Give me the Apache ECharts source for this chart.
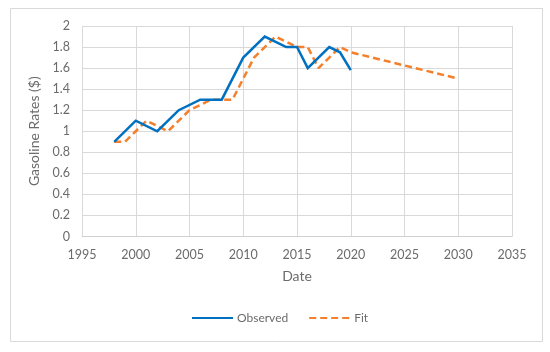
<!DOCTYPE html>
<html>
<head>
<meta charset="utf-8">
<script src="https://cdn.jsdelivr.net/npm/echarts@6/dist/echarts.min.js"></script>
<style>html,body{margin:0;padding:0;background:#fff;}#c{width:550px;height:352px;}</style>
</head>
<body>
<div id="c"></div>
<script>
const observedYears = [1998, 2000, 2002, 2004, 2006, 2008, 2010, 2012, 2014, 2015, 2016, 2018, 2019, 2020];
const observedValues = [0.9, 1.1, 1.0, 1.2, 1.3, 1.3, 1.7, 1.9, 1.8, 1.8, 1.6, 1.8, 1.75, 1.58];
const fitYears = [1998, 1999, 2000, 2001, 2002, 2003, 2004, 2005, 2006, 2007, 2008, 2009, 2010, 2011, 2012, 2013, 2014, 2015, 2016, 2017, 2018, 2019, 2020, 2030];
const fitValues = [0.9, 0.9, 1.0, 1.1, 1.05, 1.0, 1.1, 1.2, 1.25, 1.3, 1.3, 1.3, 1.5, 1.7, 1.8, 1.9, 1.85, 1.8, 1.8, 1.6, 1.7, 1.8, 1.75, 1.5];
const seriesNames = ['Observed', 'Fit'];
const xTitle = 'Date';
const yTitle = 'Gasoline Rates ($)';

const font = 'Lato, "Open Sans", sans-serif';
const textColor = '#6b6b6b';
const chart = echarts.init(document.getElementById('c'));
chart.setOption({
  animation: false,
  backgroundColor: '#fff',
  graphic: [{
    type: 'rect',
    shape: { x: 10.5, y: 8.5, width: 532, height: 333 },
    style: { fill: 'none', stroke: '#d9d9d9', lineWidth: 1 },
    silent: true
  }],
  grid: { left: 82, right: 38, top: 26, bottom: 115.5, containLabel: false },
  xAxis: {
    type: 'value', min: 1995, max: 2035, interval: 5,
    name: xTitle, nameLocation: 'middle', nameGap: 33,
    nameTextStyle: { color: textColor, fontFamily: font, fontSize: 14 },
    axisLine: { show: true, lineStyle: { color: '#d0d0d0', width: 1 } },
    axisTick: { show: false },
    axisLabel: { color: textColor, fontFamily: font, fontSize: 12.5, margin: 12,
      formatter: v => String(v) },
    splitLine: { show: true, lineStyle: { color: '#d9d9d9', width: 1 } }
  },
  yAxis: {
    type: 'value', min: 0, max: 2, interval: 0.2,
    name: yTitle, nameLocation: 'middle', nameGap: 32,
    nameTextStyle: { color: textColor, fontFamily: font, fontSize: 14 },
    axisLine: { show: false },
    axisTick: { show: false },
    axisLabel: { color: textColor, fontFamily: font, fontSize: 12.5, margin: 12,
      formatter: v => String(Math.round(v * 10) / 10) },
    splitLine: { show: true, lineStyle: { color: '#d9d9d9', width: 1 } }
  },
  legend: {
    left: 186, top: 307, itemWidth: 41, itemHeight: 14, itemGap: 20,
    itemStyle: { opacity: 0 },
    textStyle: { color: textColor, fontFamily: font, fontSize: 12, padding: [0, 0, 0, -1] },
    data: seriesNames
  },
  series: [
    {
      name: seriesNames[0], type: 'line', showSymbol: false, symbol: 'none',
      data: observedYears.map((y, i) => [y, observedValues[i]]),
      lineStyle: { color: '#0070C0', width: 2.5, join: 'miter' },
      itemStyle: { color: '#0070C0' }, z: 3
    },
    {
      name: seriesNames[1], type: 'line', showSymbol: false, symbol: 'none',
      data: fitYears.map((y, i) => [y, fitValues[i]]),
      lineStyle: { color: '#F57F2A', width: 2.5, type: [7, 4] },
      itemStyle: { color: '#F57F2A' }, z: 2
    }
  ]
});
</script>
</body>
</html>
